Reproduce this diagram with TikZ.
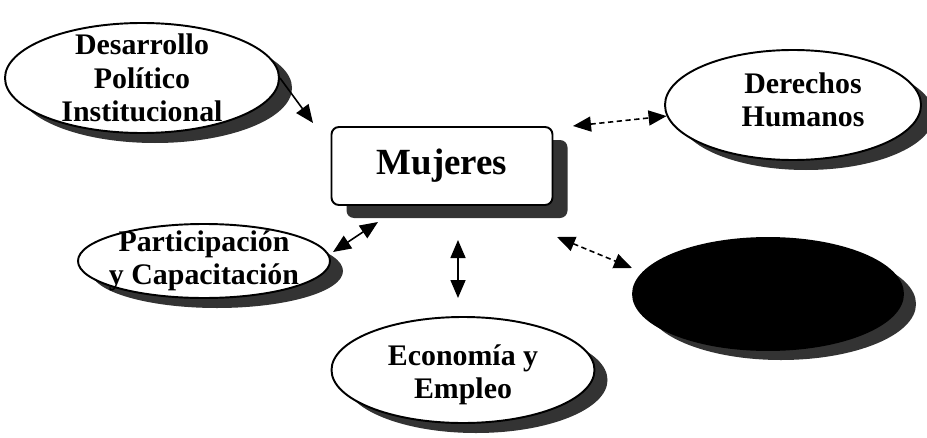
\documentclass[tikz,border=0pt]{standalone}
\usepackage{fontspec}
\setmainfont{Liberation Serif}
\usetikzlibrary{shapes.geometric, arrows.meta, shadows}

\begin{document}
\begin{tikzpicture}
% Definición de estilos
\tikzset{
tema/.style={draw, ellipse, line width=1.1pt, fill=white, inner sep=0pt,
  drop shadow={shadow xshift=0.26cm, shadow yshift=-0.2cm, fill=black!80, opacity=1}},
texto/.style={font=\bfseries\fontsize{17}{19}\selectfont, align=center, inner sep=0pt},
caja/.style={draw, rectangle, rounded corners=0.15cm, line width=1.1pt, fill=white,
  minimum width=4.42cm, minimum height=1.56cm, font=\bfseries\fontsize{21}{24}\selectfont,
  drop shadow={shadow xshift=0.3cm, shadow yshift=-0.26cm, fill=black!80, opacity=1}},
punta/.tip={Triangle[length=0.36cm, width=0.3cm]},
flecha/.style={line width=0.9pt, punta-punta},
punteada/.style={flecha, dash pattern=on 3pt off 2pt}
}
\useasboundingbox (0,0) rectangle (18.54,8.74);
% Centro
\node[caja] (muj) at (8.84,5.42) {Mujeres};
% Temas
\node[tema, minimum width=5.48cm, minimum height=2.2cm,
  label={[texto]center:{Desarrollo\\Político\\Institucional}}] (dpi) at (2.84,7.18) {};
\node[tema, minimum width=5.12cm, minimum height=2.2cm,
  label={[texto, xshift=0.2cm, yshift=0.1cm]center:{Derechos\\Humanos}}] (der) at (15.86,6.64) {};
\node[tema, minimum width=5.04cm, minimum height=1.48cm,
  label={[texto]center:{Participación\\y Capacitación}}] (pyc) at (4.08,3.52) {};
\node[tema, minimum width=5.26cm, minimum height=2.12cm,
  label={[texto, yshift=-0.1cm]center:{Economía y\\Empleo}}] (eye) at (9.26,1.34) {};
\node[tema, fill=black, minimum width=5.4cm, minimum height=2.24cm] (neg) at (15.36,2.86) {};
% Extremos libres
\coordinate (c1) at (6.26,6.28);
\coordinate (c2) at (11.46,6.22);
\coordinate (c3a) at (6.66,3.70);
\coordinate (c3b) at (7.56,4.30);
\coordinate (c4a) at (9.16,3.94);
\coordinate (c4b) at (9.16,2.78);
\coordinate (c5a) at (11.14,4.00);
\coordinate (c5b) at (12.64,3.38);
% Flechas
\draw[line width=0.9pt, -punta] (dpi.east) -- (c1);
\draw[punteada] (c2) -- (der.185);
\draw[flecha] (c3a) -- (c3b);
\draw[flecha] (c4a) -- (c4b);
\draw[punteada] (c5a) -- (c5b);
\end{tikzpicture}
\end{document}
